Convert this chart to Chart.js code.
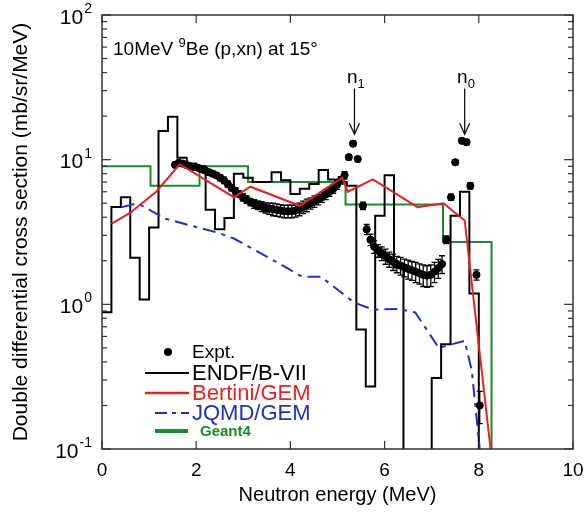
<!DOCTYPE html>
<html>
<head>
<meta charset="utf-8">
<script src="https://cdn.jsdelivr.net/npm/chart.js@4.4.0/dist/chart.umd.min.js"></script>
<style>
  body { margin: 0; background: #fff; }
  #wrap { width: 587px; height: 512px; }
</style>
</head>
<body>
<div id="wrap"><canvas id="ddxChart" width="587" height="512"></canvas></div>
<script>
const FONT = "'Liberation Sans', Arial, Helvetica, sans-serif";

// ENDF/B-VII histogram, 0.2 MeV bins (0.01 = empty bin, lies below the axis)
const endfEdges = [0, 0.2, 0.4, 0.6, 0.8, 1.0, 1.2, 1.4, 1.6, 1.8, 2.0, 2.2, 2.4, 2.6, 2.8, 3.0, 3.2, 3.4, 3.6, 3.8,
                   4.0, 4.2, 4.4, 4.6, 4.8, 5.0, 5.2, 5.4, 5.6, 5.8, 6.0, 6.2, 6.4, 6.6, 6.8, 7.0, 7.2, 7.4, 7.6, 7.8, 8.0];
const endfValues = [0.88, 4.7, 5.5, 2.1, 1.08, 3.4, 15.8, 19.8, 10.3, 9.4, 9.0, 4.5, 3.3, 3.95, 8.0, 7.5, 7.0, 7.0, 8.2, 7.2,
                    5.8, 6.3, 6.8, 8.5, 7.3, 7.0, 6.6, 0.67, 0.27, 4.1, 7.8, 1.8, 0.01, 0.01, 0.01, 0.31, 0.53, 4.1, 6.0, 1.19];

// Geant4 histogram
const g4Edges = [0, 1.03, 2.07, 3.1, 4.13, 5.17, 6.2, 7.24, 8.27];
const g4Values = [9.0, 6.6, 9.0, 7.0, 7.0, 4.9, 4.9, 2.7];

// Bertini/GEM
const bertiniE = [0.2, 0.6, 1.15, 1.65, 2.8, 3.15, 4.2, 5.1, 5.22, 5.75, 6.7, 7.25, 7.7, 8.25];
const bertiniY = [3.6, 4.3, 6.0, 9.3, 5.5, 6.5, 4.8, 7.5, 6.0, 7.3, 4.7, 5.0, 3.8, 0.1];

// JQMD/GEM
const jqmdE = [0.42, 0.75, 1.35, 2.5, 2.8, 3.6, 4.25, 4.65, 5.35, 5.75, 6.3, 6.65, 7.15, 7.7, 7.85, 8.02];
const jqmdY = [4.7, 5.0, 3.9, 3.1, 2.85, 2.05, 1.55, 1.55, 1.03, 0.92, 0.93, 0.88, 0.5, 0.56, 0.35, 0.1];

// Experiment
const exptE = [1.55, 1.63, 1.71, 1.79, 1.87, 1.95, 2.03, 2.11, 2.19, 2.27, 2.35, 2.43, 2.51, 2.59, 2.67, 2.75,
               2.83, 2.91, 2.99, 3.07, 3.15, 3.23, 3.31, 3.39, 3.47, 3.55, 3.63, 3.71, 3.79, 3.87, 3.95, 4.03,
               4.11, 4.19, 4.27, 4.35, 4.43, 4.51, 4.59, 4.67, 4.75, 4.83, 4.91, 4.99, 5.07, 5.15,
               5.24, 5.33, 5.43, 5.54,
               5.62, 5.70, 5.78, 5.86, 5.94, 6.02, 6.10, 6.18, 6.26, 6.34, 6.42, 6.50, 6.58, 6.66, 6.74, 6.82,
               6.90, 6.98, 7.06, 7.14, 7.22,
               7.31, 7.41, 7.50, 7.64, 7.74, 7.82, 7.95, 8.02];
const exptY = [9.2, 9.5, 9.4, 9.2, 9.0, 8.9, 8.8, 8.6, 8.4, 8.2, 8.0, 7.8, 7.5, 7.2, 6.8, 6.4,
               6.1, 5.8, 5.5, 5.3, 5.1, 4.95, 4.85, 4.75, 4.65, 4.6, 4.55, 4.5, 4.45, 4.4, 4.4, 4.4,
               4.45, 4.55, 4.7, 4.85, 5.0, 5.15, 5.3, 5.5, 5.75, 6.0, 6.3, 6.7, 7.2, 7.8,
               10.4, 12.9, 10.1, 4.8,
               3.3, 2.8, 2.5, 2.35, 2.25, 2.15, 2.05, 1.97, 1.9, 1.85, 1.8, 1.76, 1.72, 1.68, 1.64, 1.6,
               1.58, 1.6, 1.68, 1.78, 1.9,
               2.8, 5.5, 9.6, 13.5, 13.2, 6.6, 1.6, 0.2];
// relative error in percent
const exptErr = [4, 4, 4, 4, 4, 4, 4, 4, 4, 4, 4, 4, 5, 5, 5, 5,
                 5, 5, 6, 6, 6, 7, 7, 8, 8, 9, 10, 10, 10, 10, 10, 10,
                 10, 10, 10, 10, 9, 9, 8, 8, 8, 7, 7, 7, 6, 6,
                 4, 4, 4, 6,
                 8, 9, 10, 10, 11, 12, 12, 13, 13, 14, 14, 15, 15, 16, 16, 17,
                 17, 17, 16, 15, 14,
                 6, 5, 4, 4, 4, 5, 8, 25];

// axes
const xTickValues = [0, 2, 4, 6, 8, 10];
const yTickValues = [0.1, 1, 10, 100];
const yTickExponents = ['-1', '0', '1', '2'];

// peak markers
const peakE = [5.36, 7.70];
const peakSub = ['1', '0'];

function histPoints(edges, values) {
    // stepped 'before': each value runs from its own edge to the next one
    const pts = values.map((v, i) => ({ x: edges[i], y: v }));
    pts.push({ x: edges[edges.length - 1], y: 0.01 });
    return pts;
}

const exptIndex = 0;

const errorBars = {
    id: 'errorBars',
    beforeDatasetDraw(chart, args) {
        if (args.index !== exptIndex) return;
        const { ctx, chartArea: a, scales: { x, y } } = chart;
        ctx.save();
        ctx.beginPath();
        ctx.rect(a.left, a.top, a.right - a.left, a.bottom - a.top);
        ctx.clip();
        ctx.strokeStyle = '#000';
        ctx.lineWidth = 1.3;
        exptE.forEach((e, i) => {
            const px = x.getPixelForValue(e);
            const lo = y.getPixelForValue(exptY[i] * (1 - exptErr[i] / 100));
            const hi = y.getPixelForValue(exptY[i] * (1 + exptErr[i] / 100));
            ctx.beginPath();
            ctx.moveTo(px, lo); ctx.lineTo(px, hi);
            ctx.moveTo(px - 3, lo); ctx.lineTo(px + 3, lo);
            ctx.moveTo(px - 3, hi); ctx.lineTo(px + 3, hi);
            ctx.stroke();
        });
        ctx.restore();
    }
};

const decorations = {
    id: 'decorations',
    afterDraw(chart) {
        const { ctx, chartArea: a, scales: { x, y } } = chart;
        ctx.save();

        // frame + inside ticks
        ctx.strokeStyle = '#333';
        ctx.lineWidth = 1.5;
        ctx.strokeRect(a.left, a.top, a.right - a.left, a.bottom - a.top);
        ctx.lineWidth = 1.2;
        const seg = (x1, y1, x2, y2) => { ctx.beginPath(); ctx.moveTo(x1, y1); ctx.lineTo(x2, y2); ctx.stroke(); };
        xTickValues.forEach(v => {
            const px = x.getPixelForValue(v);
            seg(px, a.bottom, px, a.bottom - 8);
            seg(px, a.top, px, a.top + 8);
        });
        yTickValues.forEach((v, i) => {
            const py = y.getPixelForValue(v);
            seg(a.left, py, a.left + 9, py);
            seg(a.right, py, a.right - 9, py);
            if (i === yTickValues.length - 1) return;
            for (let m = 2; m <= 9; m++) {
                const pm = y.getPixelForValue(v * m);
                seg(a.left, pm, a.left + 5, pm);
                seg(a.right, pm, a.right - 5, pm);
            }
        });

        // y tick labels 10^n
        ctx.fillStyle = '#000';
        ctx.textBaseline = 'middle';
        yTickValues.forEach((v, i) => {
            const py = y.getPixelForValue(v);
            const right = a.left - 10;
            ctx.font = '14px ' + FONT;
            ctx.textAlign = 'right';
            const ew = ctx.measureText(yTickExponents[i]).width;
            ctx.fillText(yTickExponents[i], right, py - 6);
            ctx.font = '21px ' + FONT;
            ctx.fillText('10', right - ew - 1, py + 3);
        });

        // header text
        ctx.textAlign = 'left';
        ctx.textBaseline = 'alphabetic';
        let tx = a.left + 11;
        const ty = 55;
        ctx.font = '19px ' + FONT;
        ctx.fillText('10MeV ', tx, ty);
        tx += ctx.measureText('10MeV ').width;
        ctx.font = '13px ' + FONT;
        ctx.fillText('9', tx, ty - 8);
        tx += ctx.measureText('9').width;
        ctx.font = '19px ' + FONT;
        ctx.fillText('Be (p,xn) at 15\u00B0', tx, ty);

        // peak markers n1, n0
        peakE.forEach((e, i) => {
            const px = x.getPixelForValue(e);
            const top = y.getPixelForValue(31);
            const tip = y.getPixelForValue(15);
            ctx.strokeStyle = '#111';
            ctx.lineWidth = 1.3;
            seg(px, top, px, tip);
            ctx.beginPath();
            ctx.moveTo(px - 5, tip - 11); ctx.lineTo(px, tip); ctx.lineTo(px + 5, tip - 11);
            ctx.stroke();
            ctx.font = '19px ' + FONT;
            ctx.textAlign = 'right';
            ctx.fillText('n', px + 3, top - 6);
            ctx.font = '13px ' + FONT;
            ctx.textAlign = 'left';
            ctx.fillText(peakSub[i], px + 3, top - 1);
        });

        // legend
        const lx = a.left + 43, tx2 = a.left + 90;
        ctx.textAlign = 'left';
        ctx.textBaseline = 'middle';
        ctx.fillStyle = '#000';
        ctx.beginPath();
        ctx.arc(a.left + 66, 352, 4, 0, Math.PI * 2);
        ctx.fill();
        ctx.font = '19px ' + FONT;
        ctx.fillText('Expt.', tx2, 353);

        const items = [
            { t: 'ENDF/B-VII', c: '#000000', w: 2, d: [], y: 373, x0: lx },
            { t: 'Bertini/GEM', c: '#e8211f', w: 2.5, d: [], y: 393, x0: lx },
            { t: 'JQMD/GEM', c: '#1f2fcc', w: 2, d: [12, 5, 4, 5], y: 413, x0: lx + 10 }
        ];
        items.forEach(it => {
            ctx.strokeStyle = it.c;
            ctx.lineWidth = it.w;
            ctx.setLineDash(it.d);
            seg(it.x0, it.y, a.left + 87, it.y);
            ctx.setLineDash([]);
            ctx.fillStyle = it.c;
            ctx.font = '22px ' + FONT;
            ctx.fillText(it.t, tx2, it.y + 1);
        });
        ctx.strokeStyle = '#1a8c2e';
        ctx.lineWidth = 4;
        seg(lx + 10, 431, a.left + 86, 431);
        ctx.fillStyle = '#1a8c2e';
        ctx.font = 'bold 15px ' + FONT;
        ctx.fillText('Geant4', a.left + 98, 432);

        ctx.restore();
    }
};

new Chart(document.getElementById('ddxChart'), {
    type: 'line',
    data: {
        datasets: [
            {
                label: 'Expt.',
                type: 'scatter',
                data: exptE.map((e, i) => ({ x: e, y: exptY[i] })),
                backgroundColor: '#000',
                borderColor: '#000',
                pointRadius: 3.6,
                pointStyle: 'circle',
                showLine: false,
                order: 2
            },
            {
                label: 'ENDF/B-VII',
                data: histPoints(endfEdges, endfValues),
                stepped: 'before',
                borderColor: '#000',
                borderWidth: 2,
                pointRadius: 0,
                order: 3
            },
            {
                label: 'Bertini/GEM',
                data: bertiniE.map((e, i) => ({ x: e, y: bertiniY[i] })),
                borderColor: '#e8211f',
                borderWidth: 2,
                pointRadius: 0,
                order: 0
            },
            {
                label: 'JQMD/GEM',
                data: jqmdE.map((e, i) => ({ x: e, y: jqmdY[i] })),
                borderColor: '#1f2fcc',
                borderWidth: 2,
                borderDash: [13, 6, 4, 6],
                pointRadius: 0,
                order: 1
            },
            {
                label: 'Geant4',
                data: histPoints(g4Edges, g4Values),
                stepped: 'before',
                borderColor: '#1a8c2e',
                borderWidth: 2,
                pointRadius: 0,
                order: 4
            }
        ]
    },
    options: {
        responsive: false,
        animation: false,
        devicePixelRatio: 1,
        layout: { padding: { top: 15, right: 14, left: 0, bottom: 0 } },
        plugins: { legend: { display: false }, tooltip: { enabled: false } },
        scales: {
            x: {
                type: 'linear',
                min: 0,
                max: 10,
                afterFit: s => { s.height = 63; s.paddingLeft = 0; s.paddingRight = 0; },
                grid: { display: false, drawTicks: false },
                border: { display: false },
                ticks: { stepSize: 2, padding: 10, color: '#000', font: { family: FONT, size: 19 } },
                title: { display: true, text: 'Neutron energy (MeV)', color: '#000',
                         font: { family: FONT, size: 20 }, padding: { top: 0, bottom: 5 } }
            },
            y: {
                type: 'logarithmic',
                min: 0.1,
                max: 100,
                afterFit: s => { s.width = 102; },
                grid: { display: false, drawTicks: false },
                border: { display: false },
                ticks: { display: false },
                title: { display: true, text: 'Double differential cross section (mb/sr/MeV)', color: '#000',
                         font: { family: FONT, size: 21 }, padding: { top: 9, bottom: 0 } }
            }
        }
    },
    plugins: [errorBars, decorations]
});
</script>
</body>
</html>
